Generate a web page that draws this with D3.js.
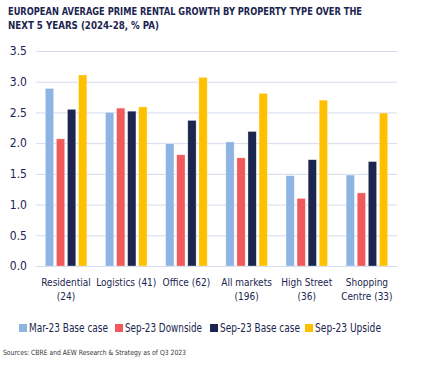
<!DOCTYPE html>
<html><head><meta charset="utf-8">
<script src="https://cdn.jsdelivr.net/npm/d3@7"></script>
<style>body{margin:0;background:#fff}svg{display:block}</style>
</head><body>
<script>
const categories = [["Residential","(24)"],["Logistics (41)"],["Office (62)"],["All markets","(196)"],["High Street","(36)"],["Shopping","Centre (33)"]];
const seriesNames = ["Mar-23 Base case","Sep-23 Downside","Sep-23 Base case","Sep-23 Upside"];
const mar23Base = [2.89, 2.50, 1.99, 2.02, 1.47, 1.48];
const sep23Down = [2.07, 2.57, 1.81, 1.76, 1.10, 1.19];
const sep23Base = [2.55, 2.52, 2.37, 2.19, 1.73, 1.70];
const sep23Up   = [3.11, 2.59, 3.07, 2.81, 2.70, 2.49];
const yTicks = [0,0.5,1,1.5,2,2.5,3,3.5];
const colors = ["#8DB4E2","#F05A5B","#1B2550","#FFC000"];
const series = [mar23Base, sep23Down, sep23Base, sep23Up];

(function(){
const W=425,H=368, mL=36, mR=397, mT=51, mB=266;
const svg=d3.select("body").append("svg").attr("width",W).attr("height",H);
const navy="#1B2550";
const FF="'DejaVu Sans Condensed','DejaVu Sans',sans-serif";
const title=svg.append("text").attr("fill",navy)
  .attr("font-family",FF).attr("font-weight","bold").attr("font-size",10.6);
title.append("tspan").attr("x",8).attr("y",15).attr("textLength",354).attr("lengthAdjust","spacingAndGlyphs")
  .text("EUROPEAN AVERAGE PRIME RENTAL GROWTH BY PROPERTY TYPE OVER THE");
title.append("tspan").attr("x",8).attr("y",29).attr("textLength",151).attr("lengthAdjust","spacingAndGlyphs")
  .text("NEXT 5 YEARS (2024-28, % PA)");

const catKeys=categories.map(d=>d.join(" "));
const x0=d3.scaleBand().domain(catKeys).range([mL,mR]).paddingInner(0.31).paddingOuter(0.155);
const x1=d3.scaleBand().domain(d3.range(4)).range([0,x0.bandwidth()]).paddingInner(0.25).paddingOuter(0);
const y=d3.scaleLinear().domain([0,3.5]).range([mB,mT]);

const yAxis=svg.append("g").attr("transform",`translate(${mL},0)`)
  .call(d3.axisLeft(y).tickValues(yTicks).tickFormat(d3.format(".1f")).tickSize(-(mR-mL)).tickPadding(9));
yAxis.select(".domain").remove();
yAxis.selectAll("line").attr("stroke","#D3DAEC").attr("stroke-width",1);
yAxis.selectAll("text").attr("fill",navy).attr("font-family",FF).attr("font-size",12);

const g=svg.append("g");
catKeys.forEach((c,i)=>{
  series.forEach((s,j)=>{
    g.append("rect").attr("x",x0(c)+x1(j)).attr("width",x1.bandwidth())
      .attr("y",y(s[i])).attr("height",y(0)-y(s[i]))
      .attr("fill",colors[j]).attr("stroke","#ffffff").attr("stroke-opacity",0.5).attr("stroke-width",0.6);
  });
});

const xl=svg.append("g");
categories.forEach((lines,i)=>{
  const cx=x0(catKeys[i])+x0.bandwidth()/2;
  const t=xl.append("text").attr("text-anchor","middle").attr("fill",navy)
    .attr("font-family",FF).attr("font-size",10);
  lines.forEach((l,k)=>t.append("tspan").attr("x",cx).attr("y",286+k*14).text(l));
});

const legX=[19,115,210,305];
const legW=[79,77,80,66];
const leg=svg.append("g");
seriesNames.forEach((n,j)=>{
  leg.append("rect").attr("x",legX[j]).attr("y",324).attr("width",8).attr("height",8).attr("fill",colors[j]);
  leg.append("text").attr("x",legX[j]+10).attr("y",332).attr("fill",navy)
    .attr("font-family",FF).attr("font-size",11.5)
    .attr("textLength",legW[j]).attr("lengthAdjust","spacingAndGlyphs").text(n);
});

svg.append("text").attr("x",3).attr("y",355).attr("fill","#333")
  .attr("font-family",FF).attr("font-size",7.2)
  .attr("textLength",183).attr("lengthAdjust","spacingAndGlyphs")
  .text("Sources: CBRE and AEW Research & Strategy as of Q3 2023");
})();
</script>
</body></html>
